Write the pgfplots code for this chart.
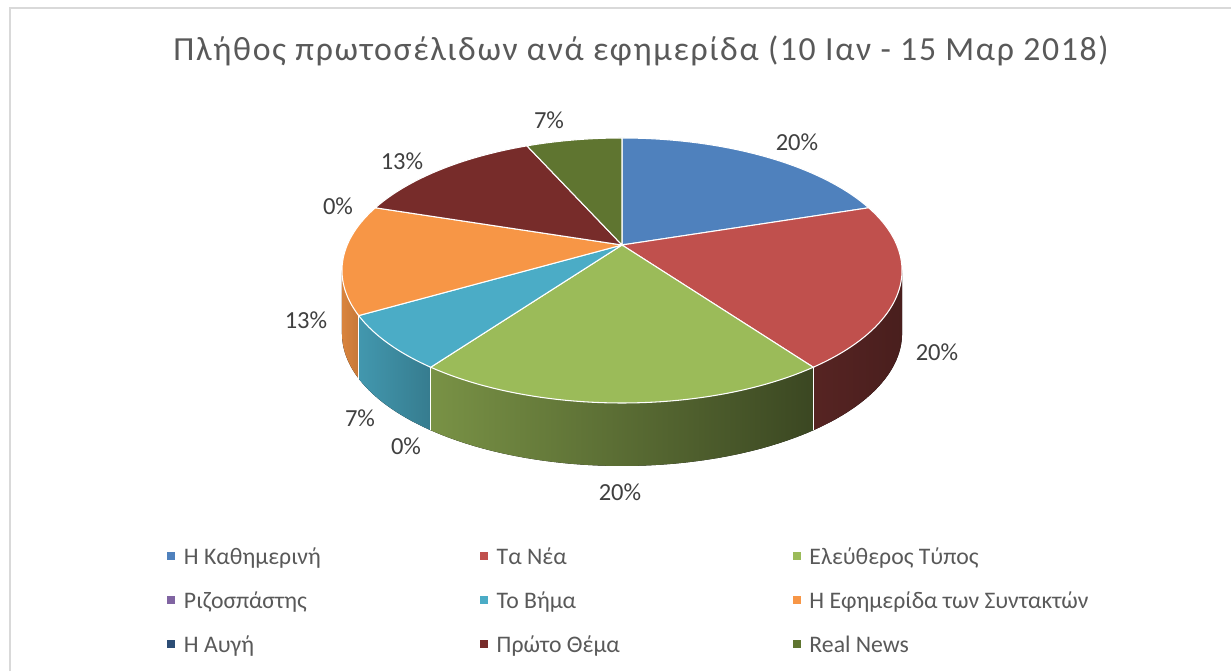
\documentclass[border=0pt]{standalone}
\usepackage{fontspec}
\setmainfont{Carlito}
\newfontfamily\titlefont[LetterSpace=5]{Carlito}
\usepackage{pgfplots}
\pgfplotsset{compat=1.18}
\usepgfplotslibrary{fillbetween}
\definecolor{cA}{HTML}{4F81BD}
\definecolor{cB}{HTML}{C0504D}
\definecolor{cC}{HTML}{9BBB59}
\definecolor{cD}{HTML}{8064A2}
\definecolor{cE}{HTML}{4BACC6}
\definecolor{cF}{HTML}{F79646}
\definecolor{cG}{HTML}{2C4D75}
\definecolor{cH}{HTML}{772C2A}
\definecolor{cI}{HTML}{5F7530}
\definecolor{ttl}{HTML}{595959}
\definecolor{lab}{HTML}{404040}
\definecolor{frame}{HTML}{D9D9D9}
% number of front pages per newspaper (total 15)
\def\nA{3}\def\nB{3}\def\nC{3}\def\nD{0}\def\nE{1}\def\nF{2}\def\nG{0}\def\nH{2}\def\nI{1}
\pgfmathsetmacro\tot{\nA+\nB+\nC+\nD+\nE+\nF+\nG+\nH+\nI}
\pgfmathsetmacro\sA{90}
\pgfmathsetmacro\sB{\sA-360*\nA/\tot}
\pgfmathsetmacro\sC{\sB-360*\nB/\tot}
\pgfmathsetmacro\sD{\sC-360*\nC/\tot}
\pgfmathsetmacro\sE{\sD-360*\nD/\tot}
\pgfmathsetmacro\sF{\sE-360*\nE/\tot}
\pgfmathsetmacro\sG{\sF-360*\nF/\tot}
\pgfmathsetmacro\sH{\sG-360*\nG/\tot}
\pgfmathsetmacro\sI{\sH-360*\nH/\tot}
\pgfmathsetmacro\sJ{\sI-360*\nI/\tot}
\pgfmathsetmacro\silR{-asin(0.1924)}
\pgfmathsetmacro\silL{-180+asin(0.1924)}
\begin{document}%
\begin{tikzpicture}
\begin{axis}[
  x=0.75pt, y=0.75pt, xmin=0, xmax=1231, ymin=0, ymax=671,
  y dir=reverse, hide axis, xtick=\empty, ytick=\empty, clip=false, scale only axis,
  declare function={PX(\t)=622+274.8*cos(\t)/(1+0.1924*sin(\t));
                    PY(\t)=245-127.6*sin(\t)/(1+0.1924*sin(\t));},
  legend columns=3,
  legend image code/.code={\fill[#1] (0pt,-2.7pt) rectangle (5.4pt,2.7pt);},
  legend style={at={(axis cs:167,545)}, anchor=north west, draw=none, fill=none,
    font=\fontsize{17.8}{21}\selectfont, text=ttl, inner sep=0pt, row sep=16.7pt,
    nodes={inner sep=0pt},
    /tikz/every odd column/.append style={column sep=6.75pt}},
]
\coordinate (BL) at (axis cs:0,671);
\coordinate (TR) at (axis cs:1231,0);
\draw[frame, line width=1.2pt] (axis cs:10,671) -- (axis cs:10,8) -- (axis cs:1231,8);

% ---- side walls (front, visible part) ----
\addplot[draw=none, name path=tR, domain=\sC:\silR, samples=40, forget plot] ({PX(x)},{PY(x)});
\addplot[draw=none, name path=bR, domain=\sC:\silR, samples=40, forget plot] ({PX(x)},{PY(x)+63});
\addplot[left color=cB!45!black, right color=cB!38!black, forget plot] fill between[of=tR and bR];

\addplot[draw=none, name path=tC, domain=\sD:\sC, samples=60, forget plot] ({PX(x)},{PY(x)});
\addplot[draw=none, name path=bC, domain=\sD:\sC, samples=60, forget plot] ({PX(x)},{PY(x)+63});
\addplot[left color=cC!78!black, right color=cC!38!black, forget plot] fill between[of=tC and bC];

\addplot[draw=none, name path=tE, domain=\sF:\sE, samples=30, forget plot] ({PX(x)},{PY(x)});
\addplot[draw=none, name path=bE, domain=\sF:\sE, samples=30, forget plot] ({PX(x)},{PY(x)+63});
\addplot[left color=cE!88!black, right color=cE!72!black, forget plot] fill between[of=tE and bE];

\addplot[draw=none, name path=tF, domain=\silL:\sF, samples=30, forget plot] ({PX(x)},{PY(x)});
\addplot[draw=none, name path=bF, domain=\silL:\sF, samples=30, forget plot] ({PX(x)},{PY(x)+63});
\addplot[left color=cF!88!black, right color=cF!80!black, forget plot] fill between[of=tF and bF];

\addplot[white, line width=0.8pt, domain=0:63, samples=2, forget plot] ({PX(\sC)},{PY(\sC)+x});
\addplot[white, line width=0.8pt, domain=0:63, samples=2, forget plot] ({PX(\sD)},{PY(\sD)+x});
\addplot[white, line width=0.8pt, domain=0:63, samples=2, forget plot] ({PX(\sF)},{PY(\sF)+x});

% ---- top faces ----
\addplot[fill=cA, draw=white, line width=0.8pt, domain=\sB:\sA, samples=50, forget plot] ({PX(x)},{PY(x)}) -- (axis cs:622,245) -- cycle;
\addplot[fill=cB, draw=white, line width=0.8pt, domain=\sC:\sB, samples=50, forget plot] ({PX(x)},{PY(x)}) -- (axis cs:622,245) -- cycle;
\addplot[fill=cC, draw=white, line width=0.8pt, domain=\sD:\sC, samples=50, forget plot] ({PX(x)},{PY(x)}) -- (axis cs:622,245) -- cycle;
\addplot[fill=cE, draw=white, line width=0.8pt, domain=\sF:\sE, samples=30, forget plot] ({PX(x)},{PY(x)}) -- (axis cs:622,245) -- cycle;
\addplot[fill=cF, draw=white, line width=0.8pt, domain=\sG:\sF, samples=40, forget plot] ({PX(x)},{PY(x)}) -- (axis cs:622,245) -- cycle;
\addplot[fill=cH, draw=white, line width=0.8pt, domain=\sI:\sH, samples=40, forget plot] ({PX(x)},{PY(x)}) -- (axis cs:622,245) -- cycle;
\addplot[fill=cI, draw=white, line width=0.8pt, domain=\sJ:\sI, samples=30, forget plot] ({PX(x)},{PY(x)}) -- (axis cs:622,245) -- cycle;

% ---- data labels ----
\begin{scope}[every node/.style={anchor=base, text=lab, font=\fontsize{18.4}{21}\selectfont}]
\node at (axis cs:797,151) {20\%};
\node at (axis cs:937,361) {20\%};
\node at (axis cs:620,501) {20\%};
\node at (axis cs:406,455) {0\%};
\node at (axis cs:360,427) {7\%};
\node at (axis cs:306,329) {13\%};
\node at (axis cs:338,215) {0\%};
\node at (axis cs:402,170) {13\%};
\node at (axis cs:549,129) {7\%};
\end{scope}

\node[anchor=base, text=ttl, font=\titlefont\fontsize{25.3}{30}\selectfont] at (axis cs:641,61)
  {Πλήθος πρωτοσέλιδων ανά εφημερίδα (10 Ιαν - 15 Μαρ 2018)};

% ---- legend ----
\addlegendimage{cA}\addlegendentry{\makebox[222pt][l]{\strut Η Καθημερινή}}
\addlegendimage{cB}\addlegendentry{\makebox[222pt][l]{\strut Τα Νέα}}
\addlegendimage{cC}\addlegendentry{\makebox[222pt][l]{\strut Ελεύθερος Τύπος}}
\addlegendimage{cD}\addlegendentry{\makebox[222pt][l]{\strut Ριζοσπάστης}}
\addlegendimage{cE}\addlegendentry{\makebox[222pt][l]{\strut Το Βήμα}}
\addlegendimage{cF}\addlegendentry{\makebox[222pt][l]{\strut Η Εφημερίδα των Συντακτών}}
\addlegendimage{cG}\addlegendentry{\makebox[222pt][l]{\strut Η Αυγή}}
\addlegendimage{cH}\addlegendentry{\makebox[222pt][l]{\strut Πρώτο Θέμα}}
\addlegendimage{cI}\addlegendentry{\makebox[222pt][l]{\strut Real News}}
\end{axis}
\pgfresetboundingbox
\path[use as bounding box] (BL) rectangle (TR);
\end{tikzpicture}%
\end{document}
